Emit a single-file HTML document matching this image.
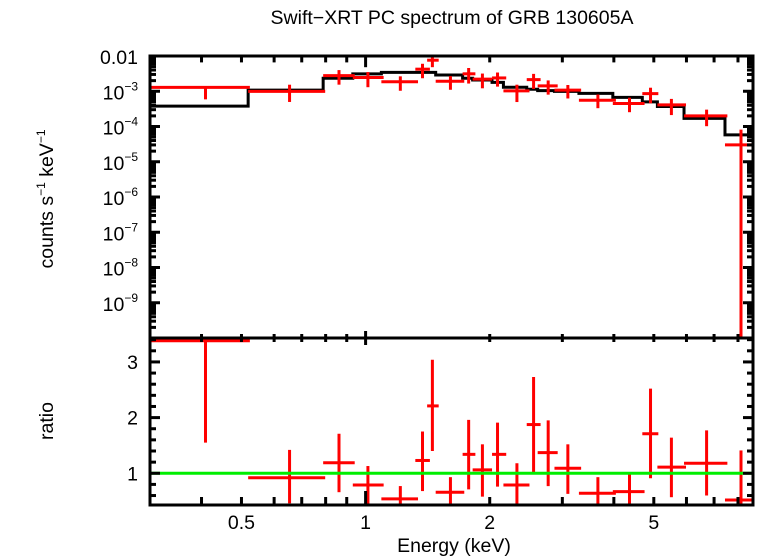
<!DOCTYPE html>
<html><head><meta charset="utf-8"><style>
html,body{margin:0;padding:0;background:#fff;}
svg{display:block;font-family:"Liberation Sans",sans-serif;}
</style></head><body>
<svg id="chart" width="758" height="556" viewBox="0 0 758 556">
<text x="452" y="24" font-size="19.5" text-anchor="middle">Swift−XRT PC spectrum of GRB 130605A</text>
<text transform="translate(53,199) rotate(-90)" font-size="19.5" text-anchor="middle">counts s<tspan font-size="12" dy="-8">−1</tspan><tspan dy="8"> keV</tspan><tspan font-size="12" dy="-8">−1</tspan></text>
<text transform="translate(53,421) rotate(-90)" font-size="19.5" text-anchor="middle">ratio</text>
<text x="454" y="552" font-size="19.5" text-anchor="middle">Energy (keV)</text>
<g id="g"></g>
</svg>
<script>
// bin edges (keV), centers, model (counts/s/keV), ratio and ratio errors
const binLo = [0.30,0.519,0.789,0.931,1.092,1.320,1.410,1.479,1.719,1.818,2.026,2.159,2.459,2.614,2.871,3.291,3.977,4.689,5.101,5.919,7.44];
const binHi = [0.524,0.798,0.941,1.106,1.340,1.432,1.504,1.735,1.846,2.026,2.193,2.497,2.657,2.923,3.332,4.046,4.748,5.128,5.985,7.54,8.70];
const binCenters = [0.409,0.654,0.862,1.013,1.214,1.374,1.452,1.606,1.778,1.92,2.089,2.328,2.555,2.772,3.094,3.659,4.365,4.909,5.516,6.714,8.136];
const modelVals = [3.8e-4,1.08e-3,2.33e-3,3.1e-3,3.44e-3,3.44e-3,3.44e-3,2.9e-3,2.33e-3,2.09e-3,1.78e-3,1.3e-3,1.14e-3,1.04e-3,0.99e-3,0.87e-3,0.67e-3,0.5e-3,0.37e-3,1.7e-4,5.8e-5];
const ratioVals = [3.38,0.92,1.19,0.79,0.54,1.23,2.21,0.66,1.34,1.06,1.34,0.79,1.875,1.37,1.09,0.64,0.67,1.71,1.11,1.18,0.52];
const ratioHi = [3.6,1.42,1.71,1.13,0.77,1.75,3.04,0.93,1.96,1.52,1.91,1.18,2.73,1.95,1.52,0.93,0.98,2.52,1.64,1.77,1.41];
const ratioLo = [1.55,0.46,0.66,0.42,0.30,0.68,1.40,0.38,0.71,0.58,0.76,0.38,1.02,0.77,0.63,0.38,0.38,0.91,0.57,0.60,0.0];
const xTickVals = [0.3,0.4,0.5,0.6,0.7,0.8,0.9,1,2,3,4,5,6,7,8];
const xTickLabels = ["0.5","1","2","5"];
const xTickLabelVals = [0.5,1,2,5];
const yDecades = [-3,-4,-5,-6,-7,-8,-9];
const ratioTicks = [1,2,3];

const L=150,R=753,T=56,M=338,B=505;
const xmin=Math.log10(0.30),xmax=Math.log10(8.70);
const X=e=>L+(Math.log10(e)-xmin)/(xmax-xmin)*(R-L);
const Yc=v=>{const lv=Math.log10(Math.max(v,1e-12));return T+(-2-lv)/8*(M-T);};
const rmin=0.43,rmax=3.43;
const Yr=v=>B-(v-rmin)/(rmax-rmin)*(B-M);
const clip=(y,a,b)=>Math.max(a,Math.min(b,y));
const g=document.getElementById('g');
const NS='http://www.w3.org/2000/svg';
function mk(tag,attrs,parent){const e=document.createElementNS(NS,tag);for(const k in attrs)e.setAttribute(k,attrs[k]);(parent||g).appendChild(e);return e;}
function line(x1,y1,x2,y2,c,w,name){const e=mk('line',{x1,y1,x2,y2,stroke:c,'stroke-width':w});

return e;}

// model histogram (top) - steps at each bin's lower edge
let d='';
for(let i=0;i<modelVals.length;i++){
  const x1=X(binLo[i]);
  const x2=i<modelVals.length-1?X(binLo[i+1]):R;
  const y=Yc(modelVals[i]);
  d+=(i===0?'M':'L')+x1+','+y+'L'+x2+','+y;}
const mp=mk('path',{d,fill:'none',stroke:'#000','stroke-width':3});



// data points
for(let i=0;i<ratioVals.length;i++){
  const x1=X(binLo[i]),x2=Math.min(R,X(binHi[i])),xc=X(binCenters[i]);
  const m=modelVals[i];
  const yc=Yc(m*ratioVals[i]);
  line(x1,yc,x2,yc,'#f00',3,'data-xerr-top');
  line(xc,clip(Yc(m*ratioHi[i]),T,M),xc,clip(Yc(m*ratioLo[i]),T,M),'#f00',3,'data-yerr-top');
  const yr=clip(Yr(ratioVals[i]),M,B);
  line(x1,yr,x2,yr,'#f00',3,'ratio-xerr');
  line(xc,clip(Yr(ratioHi[i]),M,B),xc,clip(Yr(ratioLo[i]),M,B),'#f00',3,'ratio-yerr');
}
line(L,Yr(1),R,Yr(1),'#0e0',3,'unity-line');

// axes frame
const fr=mk('rect',{x:L,y:T,width:R-L,height:B-T,fill:'none',stroke:'#000','stroke-width':3});


line(L,M,R,M,'#000',3,'panel-divider');

// x ticks
xTickVals.forEach(v=>{const x=X(v);if(x<=L+1||x>=R-1)return;const len=v===1?14:8;
  line(x,T,x,T+len*0.8,'#000',3,'x-tick-top');
  line(x,M-len/2,x,M+len/2,'#000',3,'x-tick-mid');
  line(x,B,x,B-len,'#000',3,'x-tick-bottom');});
xTickLabelVals.forEach((v,i)=>{const t=mk('text',{x:X(v),y:529,'font-size':19.5,'text-anchor':'middle'});t.textContent=xTickLabels[i];

});

// top y ticks
for(let dcd=-10;dcd<-2;dcd++){for(let k=1;k<10;k++){const y=Yc(k*Math.pow(10,dcd));if(y<T||y>M)continue;const len=k===1?10:6;
  line(L,y,L+len,y,'#000',3,'y-tick-left');line(R,y,R-len,y,'#000',3,'y-tick-right');}}
const t0=mk('text',{x:138,y:64,'font-size':19.5,'text-anchor':'end'});t0.textContent='0.01';


yDecades.forEach(p=>{const t=mk('text',{x:138,y:Yc(Math.pow(10,p))+8,'font-size':19.5,'text-anchor':'end'});


t.innerHTML='10<tspan font-size="12" dy="-9">−'+(-p)+'</tspan>';});

// ratio y ticks
for(let v=0.6;v<3.43;v+=0.2){const y=Yr(v);const major=Math.abs(v-Math.round(v))<0.01;const len=major?10:6;
  line(L,y,L+len,y,'#000',3,'ratio-tick-left');line(R,y,R-len,y,'#000',3,'ratio-tick-right');}
ratioTicks.forEach(v=>{const t=mk('text',{x:138,y:Yr(v)+7,'font-size':19.5,'text-anchor':'end'});t.textContent=v;

});
</script>
</body></html>
